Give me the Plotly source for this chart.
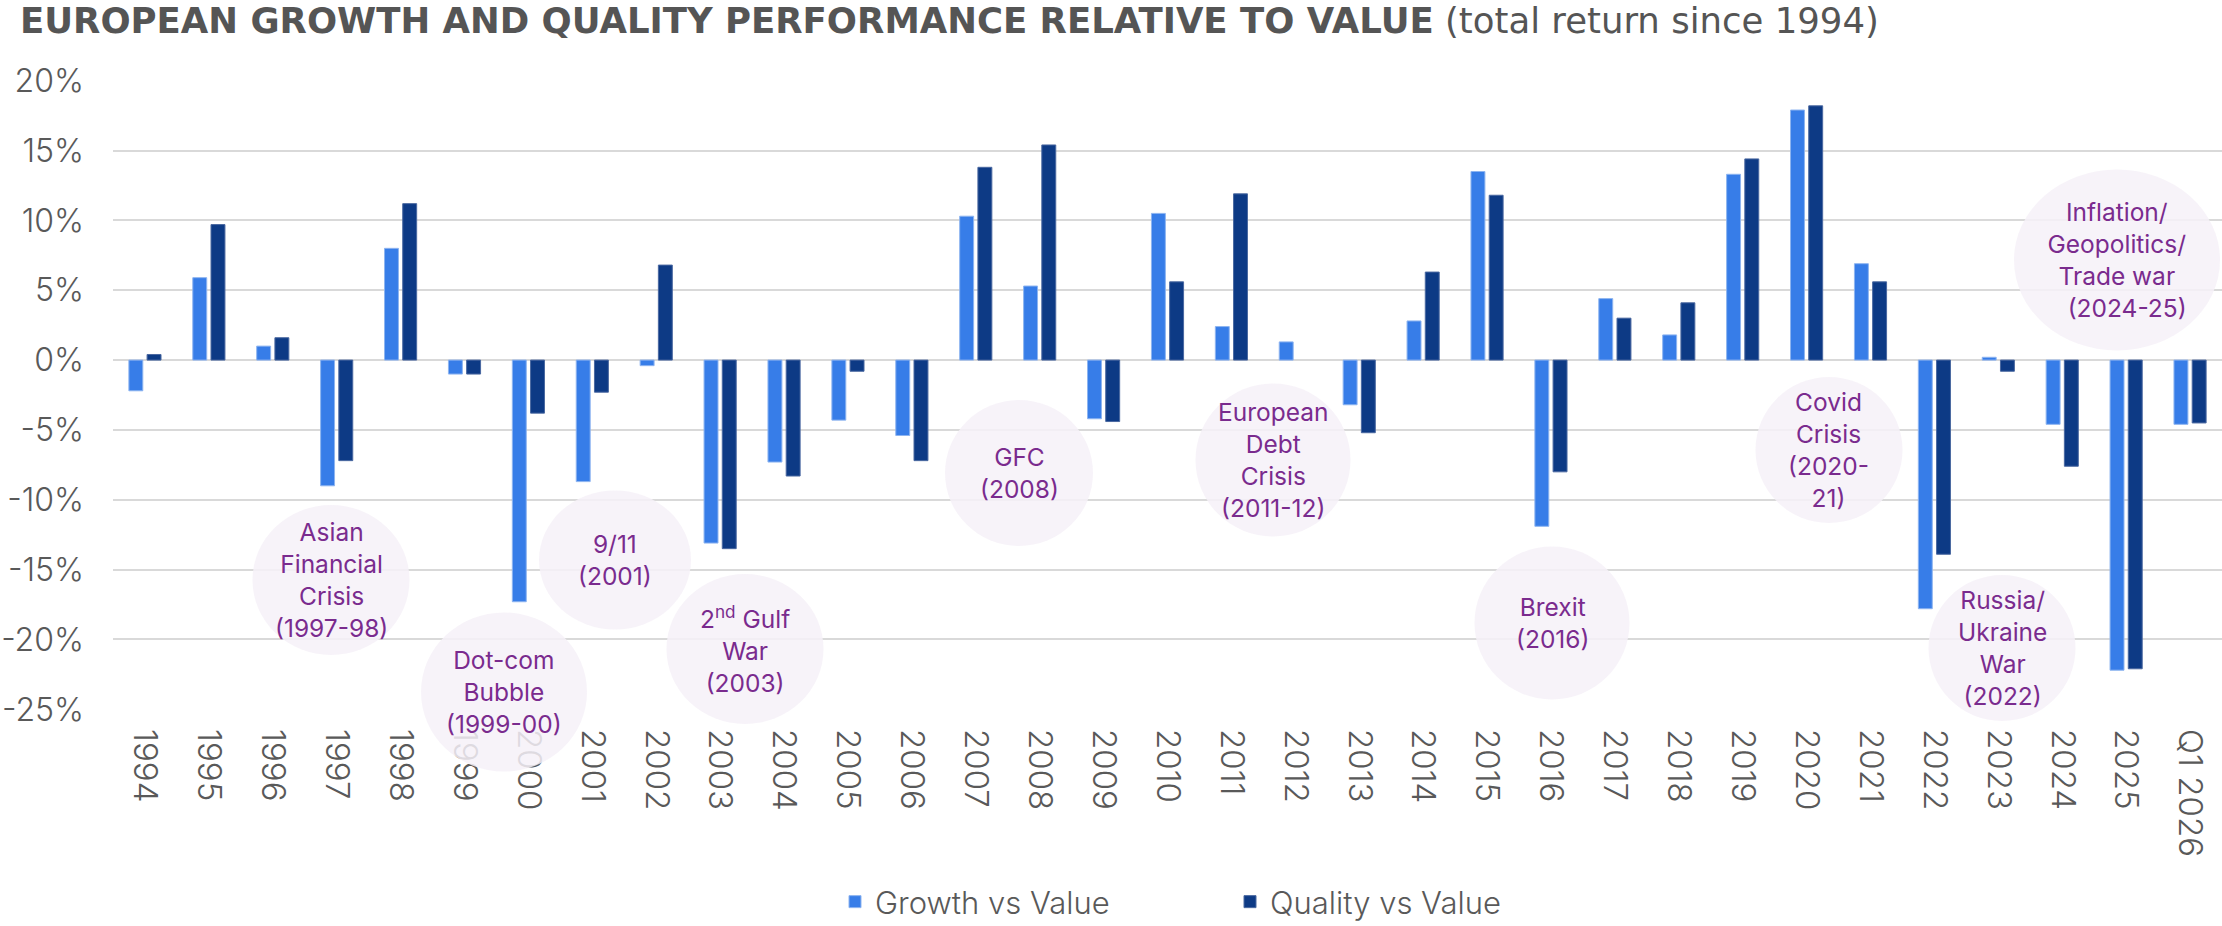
import plotly.graph_objects as go

# ---------------- data ----------------
categories = ["1994", "1995", "1996", "1997", "1998", "1999", "2000", "2001", "2002",
              "2003", "2004", "2005", "2006", "2007", "2008", "2009", "2010", "2011",
              "2012", "2013", "2014", "2015", "2016", "2017", "2018", "2019", "2020",
              "2021", "2022", "2023", "2024", "2025", "Q1 2026"]

growth_vs_value = [-2.2, 5.9, 1.0, -9.0, 8.0, -1.0, -17.3, -8.7, -0.4,
                   -13.1, -7.3, -4.3, -5.4, 10.3, 5.3, -4.2, 10.5, 2.4,
                   1.3, -3.2, 2.8, 13.5, -11.9, 4.4, 1.8, 13.3, 17.9,
                   6.9, -17.8, 0.2, -4.6, -22.2, -4.6]

quality_vs_value = [0.4, 9.7, 1.6, -7.2, 11.2, -1.0, -3.8, -2.3, 6.8,
                    -13.5, -8.3, -0.8, -7.2, 13.8, 15.4, -4.4, 5.6, 11.9,
                    None, -5.2, 6.3, 11.8, -8.0, 3.0, 4.1, 14.4, 18.2,
                    5.6, -13.9, -0.8, -7.6, -22.1, -4.5]

y_tick_vals = [20, 15, 10, 5, 0, -5, -10, -15, -20, -25]
y_tick_text = ["20%", "15%", "10%", "5%", "0%", "-5%", "-10%", "-15%", "-20%", "-25%"]

event_labels = [
    "Asian<br>Financial<br>Crisis<br>(1997-98)",
    "Dot-com<br>Bubble<br>(1999-00)",
    "9/11<br>(2001)",
    "2<sup>nd</sup> Gulf<br>War<br>(2003)",
    "GFC<br>(2008)",
    "European<br>Debt<br>Crisis<br>(2011-12)",
    "Brexit<br>(2016)",
    "Covid<br>Crisis<br>(2020-<br>21)",
    "Russia/<br>Ukraine<br>War<br>(2022)",
    "Inflation/<br>Geopolitics/<br>Trade war<br>&nbsp;&nbsp;&nbsp;(2024-25)",
]

# ---------------- layout geometry (pixels) ----------------
W, H = 2222, 926
PL, PR, PT, PB = 113, 2222, 80, 710   # plot area edges

# bubble centres / sizes in pixels (cx, cy, w, h)
event_bubbles = [
    (331, 580, 157, 150),
    (504, 692, 166, 159),
    (615, 560, 152, 139),
    (745, 649, 157, 150),
    (1019, 473, 148, 146),
    (1273, 460, 155, 153),
    (1552, 623, 155, 153),
    (1829, 450, 147, 146),
    (2002, 648, 147, 146),
    (2117, 260, 206, 181),
]

def px_x(px):
    return (px - PL) / (PR - PL)

def px_y(py):
    return (PB - py) / (PB - PT)

FONT = "Inter"
GREY = "#595959"
PURPLE = "#7A2B8E"

fig = go.Figure()
fig.add_trace(go.Bar(
    x=categories, y=growth_vs_value, name="Growth vs Value",
    marker=dict(color="#377DE8", line=dict(color="#8DB4F0", width=1)),
))
fig.add_trace(go.Bar(
    x=categories, y=quality_vs_value, name="Quality vs Value",
    marker=dict(color="#0D3A85", line=dict(color="#4A68A0", width=1)),
))

shapes = []
annotations = []
for label, (cx, cy, w, h) in zip(event_labels, event_bubbles):
    shapes.append(dict(
        type="circle", xref="paper", yref="paper",
        x0=px_x(cx - w / 2), x1=px_x(cx + w / 2),
        y0=px_y(cy + h / 2), y1=px_y(cy - h / 2),
        fillcolor="#F6F1F8", opacity=0.85, line=dict(width=0),
        layer="above",
    ))
    annotations.append(dict(
        text=label, xref="paper", yref="paper",
        x=px_x(cx), y=px_y(cy), xanchor="center", yanchor="middle",
        showarrow=False, align="center",
        font=dict(family=FONT, size=24.5, color=PURPLE),
    ))

fig.update_layout(
    width=W, height=H,
    margin=dict(l=PL, r=W - PR, t=PT, b=H - PB, pad=0),
    paper_bgcolor="white", plot_bgcolor="white",
    title=dict(
        text="<b>EUROPEAN GROWTH AND QUALITY PERFORMANCE RELATIVE TO VALUE</b> (total return since 1994)",
        xref="container", yref="container",
        x=20 / W, xanchor="left", y=1 - 21 / H, yanchor="middle",
        font=dict(family="DejaVu Sans", size=35.5, color="#555555"),
    ),
    barmode="group", bargap=0.43, bargroupgap=0.235,
    xaxis=dict(
        type="category", tickangle=90, showgrid=False, showline=False,
        ticks="", tickfont=dict(family=FONT, size=33, color=GREY, weight=300),
        ticklabelstandoff=18,
    ),
    yaxis=dict(
        range=[-25.05, 20.05], tickvals=y_tick_vals, ticktext=y_tick_text,
        showgrid=True, gridcolor="#D9D9D9", gridwidth=2,
        zeroline=True, zerolinecolor="#D9D9D9", zerolinewidth=2,
        showline=False, ticks="",
        tickfont=dict(family=FONT, size=32, color=GREY, weight=300),
        ticklabelstandoff=28,
    ),
    legend=dict(
        orientation="h", xref="container", yref="container",
        x=835 / W, xanchor="left", y=1 - 902 / H, yanchor="middle",
        font=dict(family=FONT, size=31, color=GREY, weight=300),
        entrywidth=350, entrywidthmode="pixels",
        bgcolor="rgba(0,0,0,0)",
    ),
    shapes=shapes,
    annotations=annotations,
)

fig.write_html(
    "out.html",
    config={"displayModeBar": False},
    post_script="document.body.style.margin='0';document.body.style.overflow='hidden';",
)
